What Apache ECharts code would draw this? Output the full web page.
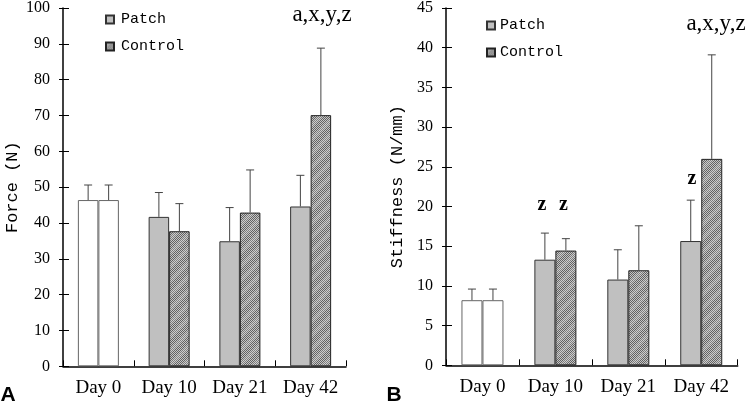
<!DOCTYPE html>
<html><head><meta charset="utf-8">
<script src="https://cdn.jsdelivr.net/npm/echarts@6/dist/echarts.min.js"></script>
<style>html,body{margin:0;padding:0;background:#fff}#c{width:750px;height:405px}</style>
</head><body><div id="c"></div>
<script>
const categories = ['Day 0', 'Day 10', 'Day 21', 'Day 42'];
const forcePatch = [46.4, 41.7, 34.9, 44.6];
const forcePatchSD = [4.2, 6.8, 9.4, 8.7];
const forceControl = [46.4, 37.7, 42.9, 70.1];
const forceControlSD = [4.2, 7.7, 11.9, 18.7];
const stiffPatch = [8.2, 13.3, 10.8, 15.65];
const stiffPatchSD = [1.4, 3.35, 3.75, 5.15];
const stiffControl = [8.2, 14.45, 11.97, 26.0];
const stiffControlSD = [1.4, 1.5, 5.6, 13.1];
const forceTicks = {min: 0, max: 100, interval: 10};
const stiffTicks = {min: 0, max: 45, interval: 5};

// hatch pattern
const pc = document.createElement('canvas');
pc.width = 14; pc.height = 14;
const pctx = pc.getContext('2d');
for (let y = 0; y < 14; y++) for (let x = 0; x < 14; x++) {
  const chk = (x + y) % 2 === 0;
  const stripe = ((x + y) % 14) < 5;
  pctx.fillStyle = chk ? (stripe ? '#7e7e7e' : '#626262') : (stripe ? '#cfcfcf' : '#c6c6c6');
  pctx.fillRect(x, y, 1, 1);
}
const hatch = {image: pc, repeat: 'repeat'};

const serif = '"Liberation Serif", serif';
const mono = '"Liberation Mono", monospace';

const grids = [
  {left: 63, top: 6.3, right: 404, bottom: 38.7},
  {left: 446, top: 7.3, right: 12.3, bottom: 39.7}
];
const barW = [20.5, 21];

function xAxis(gi) {
  return {type: 'category', gridIndex: gi, data: categories,
    axisLine: {lineStyle: {color: '#000', width: 1.5}},
    axisTick: {show: true, inside: true, length: 6, lineStyle: {color: '#000', width: 1}},
    axisLabel: {color: '#000', fontFamily: serif, fontSize: 19, margin: 12, interval: 0},
    splitLine: {show: false}};
}
function yAxisMain(gi, t, name, gap) {
  return {type: 'value', gridIndex: gi, min: t.min, max: t.max, interval: t.interval,
    name: name, nameLocation: 'middle', nameGap: gap,
    nameTextStyle: {color: '#000', fontFamily: mono, fontSize: 17},
    axisLine: {show: true, lineStyle: {color: '#000', width: 1.5}},
    axisTick: {show: true, inside: true, length: 6, lineStyle: {color: '#000'}},
    axisLabel: {color: '#000', fontFamily: serif, fontSize: 16, margin: 13},
    splitLine: {show: false}};
}
function yAxisOut(gi, t) {
  return {type: 'value', gridIndex: gi, min: t.min, max: t.max, interval: t.interval, position: 'left',
    axisLine: {show: false}, axisTick: {show: true, inside: false, length: 4, lineStyle: {color: '#000'}},
    axisLabel: {show: false}, splitLine: {show: false}};
}

function barSeries(name, vals, gi, color, border) {
  return {type: 'bar', name: name, xAxisIndex: gi, yAxisIndex: gi * 2, barWidth: barW[gi], barGap: '0%',
    itemStyle: {color: color, borderColor: border, borderWidth: 1},
    data: vals.map((v, i) => i === 0 ? {value: v, itemStyle: {color: '#fff', borderColor: '#666'}} : v)};
}
function errSeries(vals, sds, gi, side) {
  return {type: 'custom', xAxisIndex: gi, yAxisIndex: gi * 2, z: 5, silent: true,
    data: vals.map((v, i) => [i, v, v + sds[i]]),
    renderItem: function (params, api) {
      const c = api.coord([api.value(0), api.value(1)]);
      const e = api.coord([api.value(0), api.value(2)]);
      const x = c[0] + side * barW[gi] / 2;
      return {type: 'group', children: [
        {type: 'line', shape: {x1: x, y1: c[1], x2: x, y2: e[1]}, style: {stroke: '#444', lineWidth: 1}},
        {type: 'line', shape: {x1: x - 4, y1: e[1], x2: x + 4, y2: e[1]}, style: {stroke: '#444', lineWidth: 1}}
      ]};
    }};
}

function txt(text, x, y, font) {
  return {type: 'text', x: x, y: y, style: {text: text, font: font, fill: '#000', textAlign: 'center', textVerticalAlign: 'middle'}};
}

const option = {
  animation: false,
  grid: grids,
  xAxis: [xAxis(0), xAxis(1)],
  yAxis: [yAxisMain(0, forceTicks, 'Force (N)', 42), yAxisOut(0, forceTicks),
          yAxisMain(1, stiffTicks, 'Stiffness (N/mm)', 40), yAxisOut(1, stiffTicks)],
  legend: [
    {left: 105, top: 12, padding: 0, orient: 'vertical', itemWidth: 8, itemHeight: 8, itemGap: 12, icon: 'rect',
     data: ['Patch', 'Control'], selectedMode: false,
     textStyle: {fontFamily: mono, fontSize: 15, color: '#000', lineHeight: 15, padding: [0, 0, 0, 2]}},
    {left: 486, top: 18, padding: 0, orient: 'vertical', itemWidth: 8, itemHeight: 8, itemGap: 12, icon: 'rect',
     data: ['Patch ', 'Control '], selectedMode: false,
     textStyle: {fontFamily: mono, fontSize: 15, color: '#000', lineHeight: 15}}
  ],
  series: [
    barSeries('Patch', forcePatch, 0, '#c0c0c0', '#333'),
    barSeries('Control', forceControl, 0, hatch, '#222'),
    errSeries(forcePatch, forcePatchSD, 0, -1),
    errSeries(forceControl, forceControlSD, 0, 1),
    barSeries('Patch ', stiffPatch, 1, '#c0c0c0', '#333'),
    barSeries('Control ', stiffControl, 1, hatch, '#222'),
    errSeries(stiffPatch, stiffPatchSD, 1, -1),
    errSeries(stiffControl, stiffControlSD, 1, 1)
  ],
  graphic: [
    txt('a,x,y,z', 322, 15, '23px "Liberation Serif"'),
    txt('a,x,y,z', 716, 23.5, '23px "Liberation Serif"'),
    txt('z', 542, 204.5, 'bold 20px "Liberation Serif"'),
    txt('z', 563.5, 204.5, 'bold 20px "Liberation Serif"'),
    txt('z', 692, 178.5, 'bold 20px "Liberation Serif"'),
    txt('A', 8, 395.5, 'bold 21px "Liberation Sans"'),
    txt('B', 394, 395.5, 'bold 21px "Liberation Sans"')
  ]
};
echarts.init(document.getElementById('c')).setOption(option);
</script></body></html>
